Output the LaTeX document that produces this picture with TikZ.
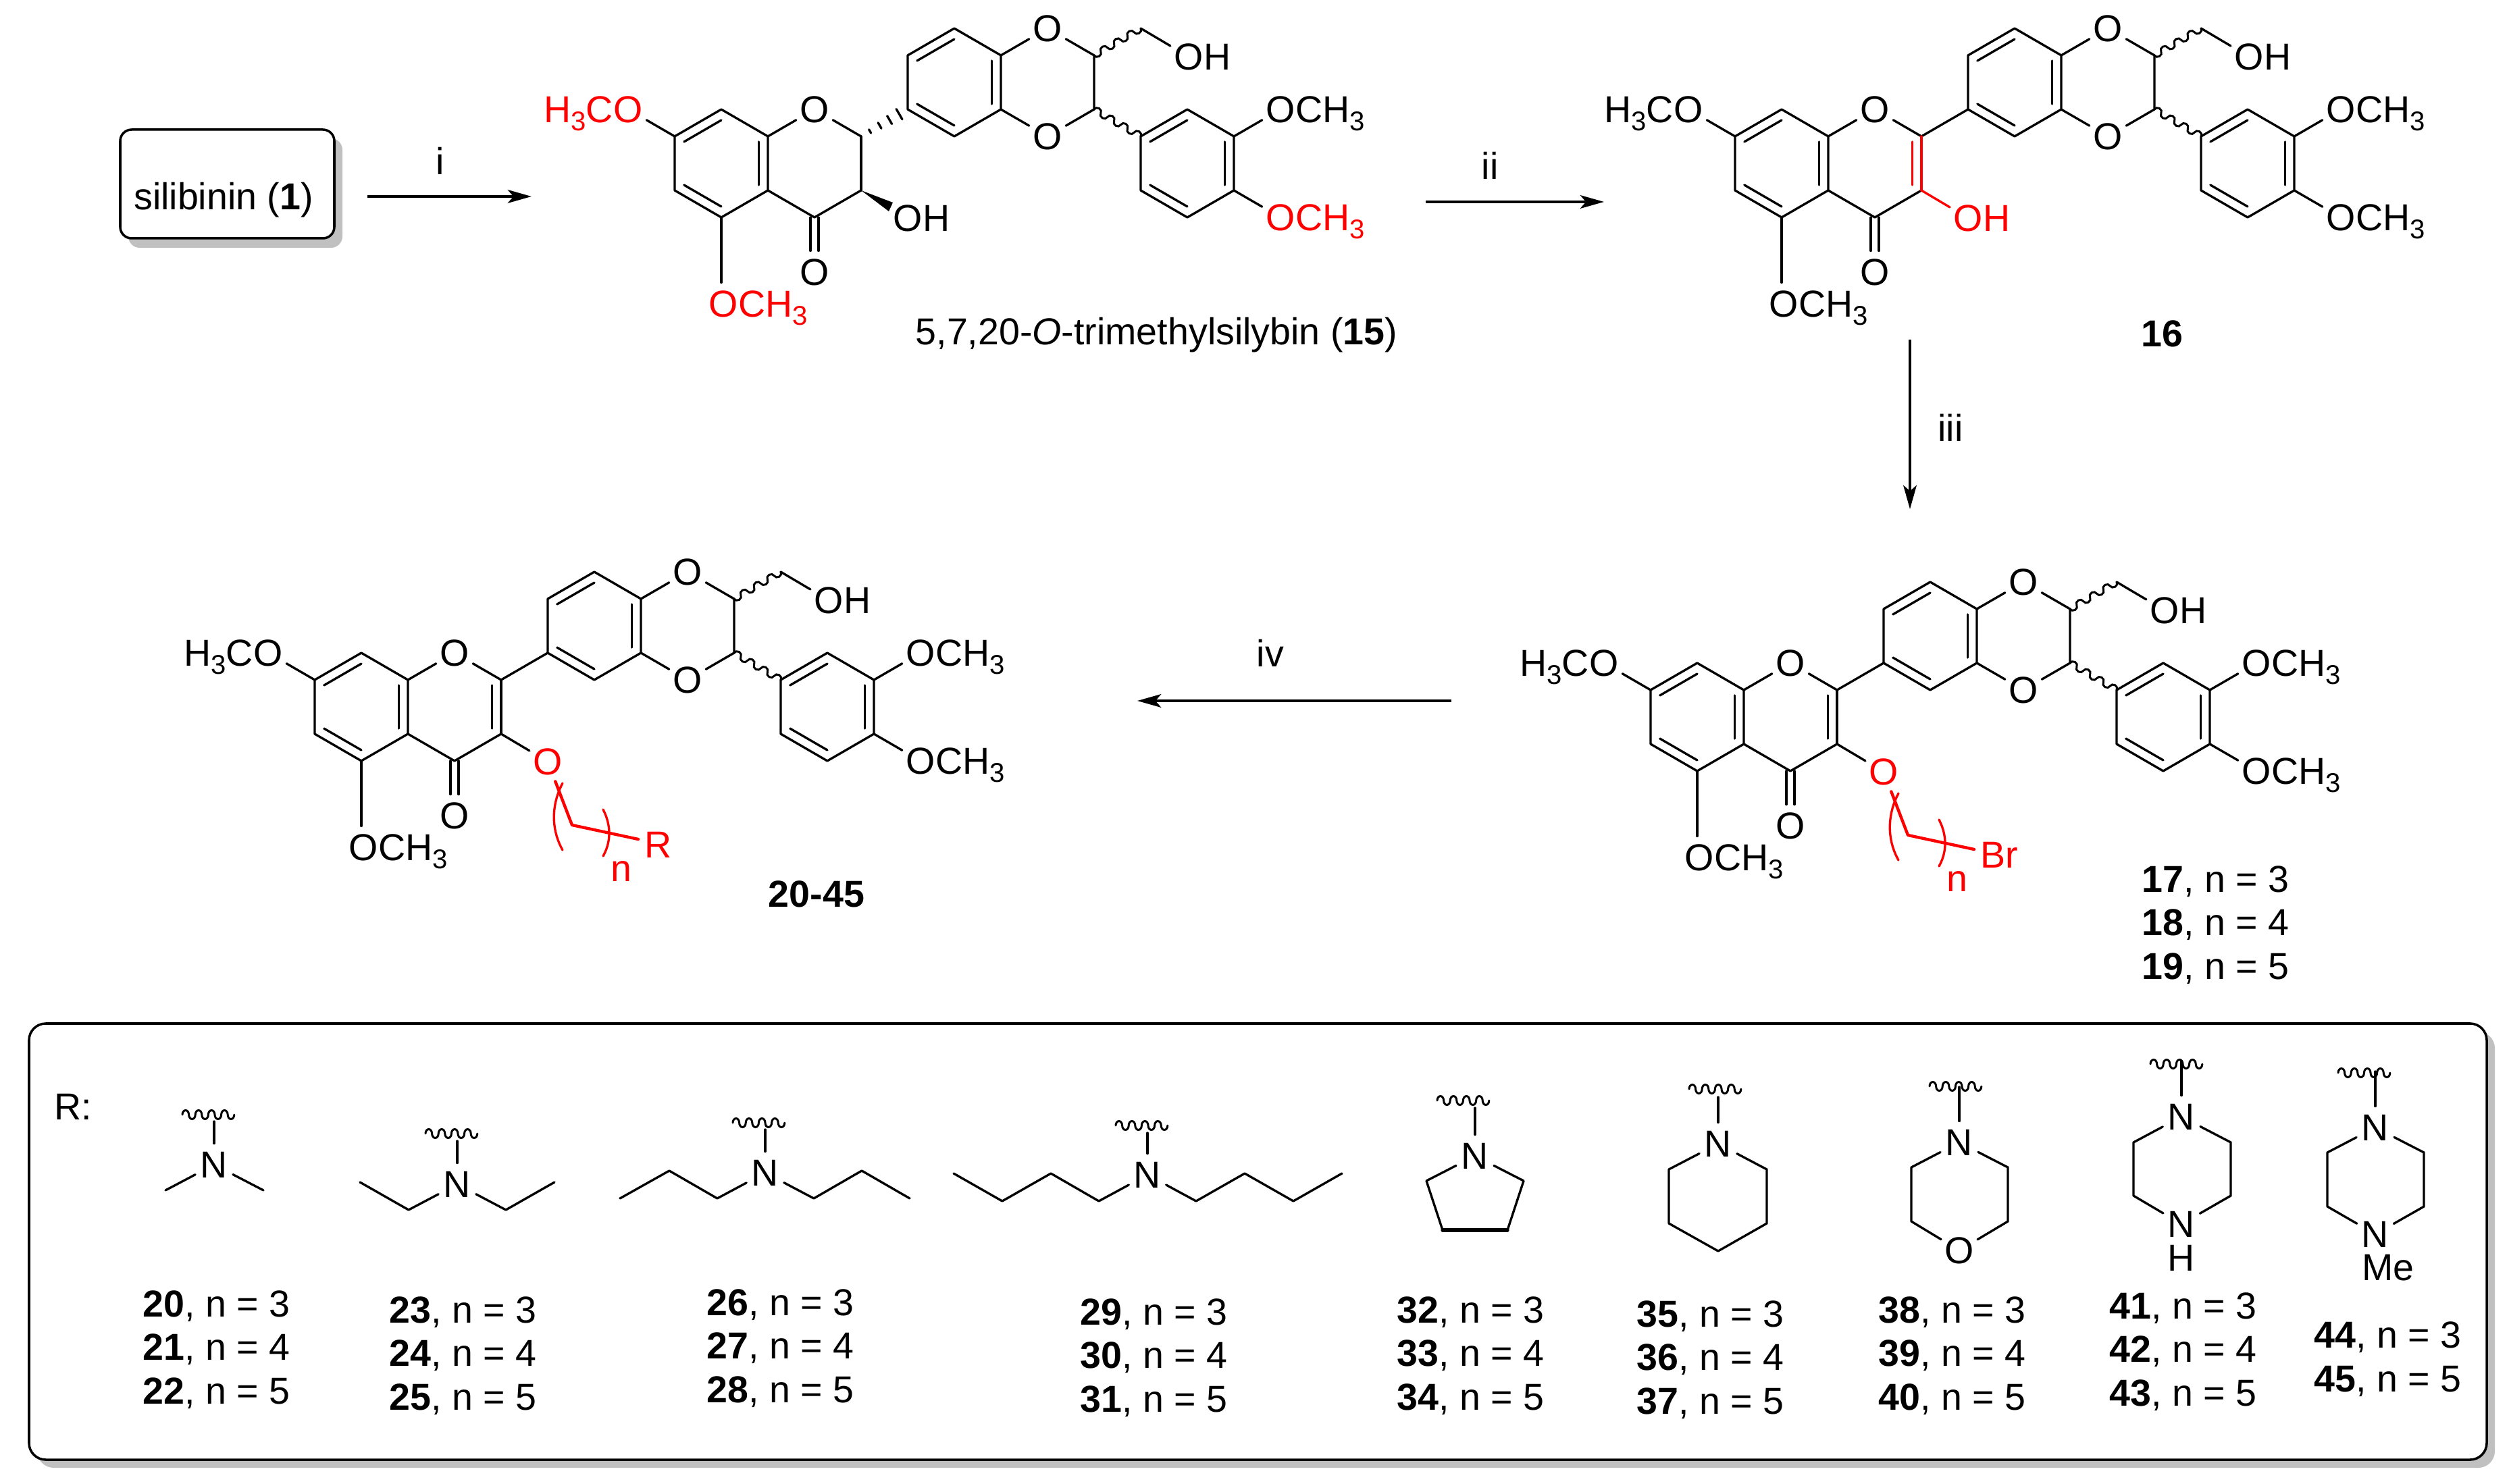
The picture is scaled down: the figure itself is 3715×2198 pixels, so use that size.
\documentclass[tikz,border=0pt]{standalone}
\usepackage{fontspec}
\setmainfont{Liberation Sans}
\usepackage{xcolor}
\definecolor{xshadow}{HTML}{C0C0C0}
\usetikzlibrary{calc, arrows.meta}
\newcommand{\chemfont}{\fontsize{15.8}{18.4}\selectfont}
\newcommand{\subthree}{\raisebox{-3.4pt}{\fontsize{11.4}{11.4}\selectfont 3}}
\newcommand{\innerbond}[4][black]{\draw[bond, #1] ($(#4)!.8!(#2)$) -- ($(#4)!.8!(#3)$);}
\newcommand{\humpup}[2]{arc[start angle=180, end angle=360, x radius=#1, y radius=#2]}
\newcommand{\humpdown}[2]{arc[start angle=180, end angle=0, x radius=#1, y radius=#2]}
\tikzset{
  %% Styles %%
  bond/.style = {line width=0.95pt, line cap=round, line join=round},
  chainbond/.style = {line width=1.25pt, line cap=round, line join=round, red},
  wavy/.style = {line width=0.85pt, line cap=round},
  atom/.style = {circle, inner sep=0pt, minimum size=17.5pt, font=\chemfont, text=#1},
  atom/.default = black,
  tail/.style = {inner sep=0pt, font=\chemfont, text=#1},
  tail/.default = black,
  label/.style = {inner sep=0pt, font=\chemfont},
  stepline/.style = {line width=1.1pt, -{Stealth[length=10pt, width=5.6pt, inset=2.4pt]}},
  shadowfill/.style = {fill=xshadow, draw=none, rounded corners=#1},
  framebox/.style = {fill=white, draw=black, line width=1pt, rounded corners=#1},
  %% Parent skeleton, origin on the top atom of the left ring
  pics/skeleton/.style = {
    code = {
      \foreach \n/\x/\y in {a1/0/0, a2/-69/40, a3/-69/120, a4/0/160, a5/69/120, a6/69/40,
          c2/207/40, c3/207/120, c4/138/160, ca/0/80, cp/138/80,
          b1/276/0, b2/276/-80, b3/345/-120, b4/414/-80, b5/414/0, b6/345/40, cb/345/-40,
          d2/552/-80, d3/552/0, ch/621/-120,
          e1/621/40, e2/690/0, e3/759/40, e4/759/120, e5/690/160, e6/621/120, ce/690/80}
        \coordinate (-\n) at (\x,\y);

      % Hetero atoms
      \node[atom] (-o1) at (138,0) {O};
      \node[atom] (-oc) at (138,241) {O};
      \node[atom] (-od) at (483,-120) {O};
      \node[atom] (-oe) at (483,40) {O};
      \node[atom] (-oh) at (692,-78) {O};
      \node[tail, anchor=base west] (-hh) at ([xshift=6.1pt]-oh.base) {H};
      \node[atom=#1] (-og) at (-138,0) {O};
      \node[tail=#1, anchor=base east] (-mg) at ([xshift=-6.1pt]-og.base) {H\subthree C};
      \node[atom=#1] (-om) at (3,288) {O};
      \node[tail=#1, anchor=base west] (-mm) at ([xshift=6.1pt]-om.base) {CH\subthree};
      \node[atom] (-op) at (828,0) {O};
      \node[tail, anchor=base west] (-mp) at ([xshift=6.1pt]-op.base) {CH\subthree};
      \node[atom=#1] (-oq) at (828,160) {O};
      \node[tail=#1, anchor=base west] (-mq) at ([xshift=6.1pt]-oq.base) {CH\subthree};

      % Rings
      \draw[bond] (-a1) -- (-a2) -- (-a3) -- (-a4) -- (-a5) -- (-a6) -- cycle;
      \draw[bond] (-a6) -- (-o1) -- (-c2);
      \draw[bond] (-c3) -- (-c4) -- (-a5);
      \draw[bond] (-b1) -- (-b2) -- (-b3) -- (-b4) -- (-b5) -- (-b6) -- cycle;
      \draw[bond] (-b4) -- (-od) -- (-d2) -- (-d3) -- (-oe) -- (-b5);
      \draw[bond] (-e1) -- (-e2) -- (-e3) -- (-e4) -- (-e5) -- (-e6) -- cycle;

      % Inner lines of the double bonds
      \innerbond{-a1}{-a2}{-ca}
      \innerbond{-a3}{-a4}{-ca}
      \innerbond{-a5}{-a6}{-ca}
      \innerbond{-b1}{-b6}{-cb}
      \innerbond{-b2}{-b3}{-cb}
      \innerbond{-b4}{-b5}{-cb}
      \innerbond{-e1}{-e2}{-ce}
      \innerbond{-e5}{-e6}{-ce}
      \innerbond{-e3}{-e4}{-ce}

      % Substituents
      \draw[bond] ($(-c4)+(-6,0)$) -- ($(-oc.north)+(-6,0)$);
      \draw[bond] ($(-c4)+(6,0)$) -- ($(-oc.north)+(6,0)$);
      \draw[bond] (-a2) -- (-og);
      \draw[bond] (-a4) -- (-a4 |- -om.north);
      \draw[bond] (-e3) -- (-op);
      \draw[bond] (-e4) -- (-oq);
      \draw[bond] (-ch) -- (-oh);
      \draw[wavy, shift={(552,-80)}, rotate=30] (0,0) \humpdown{5.7}{5} \humpup{5.7}{5} \humpdown{5.7}{5} \humpup{5.7}{5} \humpdown{5.7}{5} \humpup{5.7}{5} \humpdown{5.7}{5};
      \draw[wavy, shift={(552,0)}, rotate=-30] (0,0) \humpup{5.7}{5} \humpdown{5.7}{5} \humpup{5.7}{5} \humpdown{5.7}{5} \humpup{5.7}{5} \humpdown{5.7}{5} \humpup{5.7}{5};
    }
  },
  %% O-alkyl chain on the skeleton, same origin
  pics/oxychain/.style = {
    code = {
      \coordinate (-c3) at (207,120);
      \coordinate (-c1) at (312,255);
      \coordinate (-c5) at (410,276);
      \node[atom=red] (-o3) at (276,161) {O};
      \node[tail=red, anchor=west] (-end) at (419,284) {#1};
      \node[tail=red] (-n) at (385,324) {n};
      \draw[bond] (-c3) -- (-o3);
      \draw[chainbond] (-o3) -- (-c1) -- (-c5);
      \draw[bond, red] (298,193) .. controls (281,225) and (281,262) .. (298,292);
      \draw[bond, red] (358,232) .. controls (370,255) and (370,280) .. (358,301);
    }
  },
  %% Amine with its open bond: wave dx, wave dy, top of the bond
  pics/nhead/.style n args = {3}{
    code = {
      \node[atom] (-n) at (0,0) {N};
      \coordinate (-top) at (0,#3);
      \draw[bond] (-n) -- (-top);
      \draw[wavy] ($(-n)+(#1-38,#2+2)$) \humpup{4.8}{6.5} \humpdown{4.8}{6.5} \humpup{4.8}{6.5} \humpdown{4.8}{6.5} \humpup{4.8}{6.5} \humpdown{4.8}{6.5} \humpup{4.8}{6.5} \humpdown{4.8}{6.5};
    }
  },
}

\begin{document}
\begin{tikzpicture}[x=0.01cm, y=-0.01cm]
  \useasboundingbox (0,0) rectangle (3715,2198);

  % Frames
  \fill[shadowfill=4.8pt] (190,205) rectangle (507,367);
  \draw[framebox=4.8pt] (178,192) rectangle (495,353);
  \fill[shadowfill=7pt] (55,1528) rectangle (3694,2174);
  \draw[framebox=7pt] (43,1516) rectangle (3682,2162);
  \node[label, anchor=base] (silibinin) at (331,311) {silibinin (\textbf{1})};

  % Compound 15
  \pic (m15) at (1068,162) {skeleton=red};
  \draw[bond] (m15-c2) -- (m15-c3);
  \node[atom] (o15) at ($(m15-c3)+(69,41)$) {O};
  \node[tail, anchor=base west] (h15) at ([xshift=6.1pt]o15.base) {H};
  \fill (m15-c3) -- ($(m15-c3)+(47,18)$) -- ($(m15-c3)+(41,31)$) -- cycle;
  \foreach \t/\l in {.19/.85, .40/1.4, .61/1.95, .82/2.5} {
    \draw[bond] ($(m15-c2)!\t!(m15-b1)!\l pt!90:(m15-b1)$) -- ($(m15-c2)!\t!(m15-b1)!\l pt!-90:(m15-b1)$);
  }
  \node[label, anchor=base west] (name15) at (1355,511) {5,7,20-\textit{O}-trimethylsilybin (\textbf{15})};

  % Compound 16
  \pic (m16) at (2638,162) {skeleton=black};
  \draw[bond] (m16-c2) -- (m16-b1);
  \draw[bond, red] (m16-c2) -- (m16-c3);
  \innerbond[red]{m16-c2}{m16-c3}{m16-cp}
  \node[atom=red] (o16) at ($(m16-c3)+(69,41)$) {O};
  \node[tail=red, anchor=base west] (h16) at ([xshift=6.1pt]o16.base) {H};
  \draw[bond, red] (m16-c3) -- (o16);
  \node[label, anchor=base] (name16) at (3201,514) {\textbf{16}};

  % Compounds 17-19
  \pic (m17) at (2513,982) {skeleton=black};
  \pic (r17) at (2513,982) {oxychain=Br};
  \draw[bond] (m17-c2) -- (m17-b1);
  \draw[bond] (m17-c2) -- (m17-c3);
  \innerbond{m17-c2}{m17-c3}{m17-cp}
  \node[label, anchor=west, align=left] (name17) at (3171,1370) {\textbf{17}, n = 3\\\textbf{18}, n = 4\\\textbf{19}, n = 5};

  % Compounds 20-45
  \pic (m20) at (535,967) {skeleton=black};
  \pic (r20) at (535,967) {oxychain=R};
  \draw[bond] (m20-c2) -- (m20-b1);
  \draw[bond] (m20-c2) -- (m20-c3);
  \innerbond{m20-c2}{m20-c3}{m20-cp}
  \node[label, anchor=base] (name20) at (1209,1343) {\textbf{20-45}};

  % Reaction arrows
  \coordinate (i1) at (544,291);
  \coordinate (i2) at (787,291);
  \coordinate (ii1) at (2111,299);
  \coordinate (ii2) at (2375,299);
  \coordinate (iii1) at (2828,503);
  \coordinate (iii2) at (2828,754);
  \coordinate (iv1) at (2149,1038);
  \coordinate (iv2) at (1684,1038);
  \draw[stepline] (i1) -- (i2);
  \draw[stepline] (ii1) -- (ii2);
  \draw[stepline] (iii1) -- (iii2);
  \draw[stepline] (iv1) -- (iv2);
  \node[label, anchor=base] (stepi) at (652,259) {i};
  \node[label, anchor=base] (stepii) at (2206,266) {ii};
  \node[label, anchor=base] (stepiii) at (2888,654) {iii};
  \node[label, anchor=base] (stepiv) at (1881,988) {iv};

  % R groups
  \node[label, anchor=base west] (rlabel) at (80,1658) {R:};

  \pic (a20) at (317,1725) {nhead={-9}{-76}{-64}};
  \draw[bond] (a20-n) -- ++(-72,38);
  \draw[bond] (a20-n) -- ++(73,38);

  \pic (a23) at (677,1754) {nhead={-9}{-77}{-64}};
  \draw[bond] (a23-n) -- ++(-72,38) -- ++(-72,-41);
  \draw[bond] (a23-n) -- ++(72,38) -- ++(72,-41);

  \pic (a26) at (1133,1737) {nhead={-10}{-76}{-64}};
  \draw[bond] (a26-n) -- ++(-71,38) -- ++(-71,-41) -- ++(-73,41);
  \draw[bond] (a26-n) -- ++(72,38) -- ++(71,-41) -- ++(71,41);

  \pic (a29) at (1699,1740) {nhead={-9}{-75}{-62}};
  \draw[bond] (a29-n) -- ++(-72,39) -- ++(-71,-41) -- ++(-72,41) -- ++(-72,-41);
  \draw[bond] (a29-n) -- ++(72,39) -- ++(72,-41) -- ++(72,41) -- ++(72,-41);

  \pic (a32) at (2184,1712) {nhead={-18}{-84}{-71}};
  \draw[bond] (a32-n) -- ++(-72,37) -- ++(24,73) -- ++(96,0) -- ++(24,-73) -- (a32-n);
  \draw[bond, line width=1.5pt] ($(a32-n)+(-48,110)$) -- ++(96,0);

  \pic (a35) at (2544,1694) {nhead={-5}{-83}{-69}};
  \draw[bond] (a35-n) -- ++(-73,38) -- ++(0,80) -- ++(73,41) -- ++(72,-41) -- ++(0,-80) -- (a35-n);

  \pic (a38) at (2901,1692) {nhead={-6}{-85}{-82}};
  \node[atom] (o38) at (2901,1852) {O};
  \draw[bond] (a38-n) -- ++(-71,37) -- ++(0,80) -- (o38);
  \draw[bond] (a38-n) -- ++(72,37) -- ++(0,80) -- (o38);

  \pic (a41) at (3230,1654) {nhead={-8}{-80}{-82}};
  \node[atom] (n41) at (3230,1813) {N};
  \node[label] (h41) at (3230,1863) {H};
  \draw[bond] (a41-n) -- ++(-71,38) -- ++(0,79) -- (n41);
  \draw[bond] (a41-n) -- ++(73,38) -- ++(0,79) -- (n41);

  \pic (a44) at (3517,1670) {nhead={-17}{-83}{-83}};
  \node[atom] (n44) at (3517,1828) {N};
  \node[label] (me44) at (3536,1878) {Me};
  \draw[bond] (a44-n) -- ++(-71,37) -- ++(0,80) -- (n44);
  \draw[bond] (a44-n) -- ++(72,37) -- ++(0,80) -- (n44);

  % Compound numbers
  \foreach \x/\y/\a/\b/\c in {211/1999/20/21/22, 576/2008/23/24/25, 1046/1997/26/27/28,
      1599/2011/29/30/31, 2068/2008/32/33/34, 2423/2014/35/36/37, 2781/2008/38/39/40, 3123/2002/41/42/43} {
    \node[label, anchor=west, align=left] (list\a) at (\x,\y) {\textbf{\a}, n = 3\\\textbf{\b}, n = 4\\\textbf{\c}, n = 5};
  }
  \node[label, anchor=west, align=left] (list44) at (3426,2013) {\textbf{44}, n = 3\\\textbf{45}, n = 5};
\end{tikzpicture}
\end{document}
